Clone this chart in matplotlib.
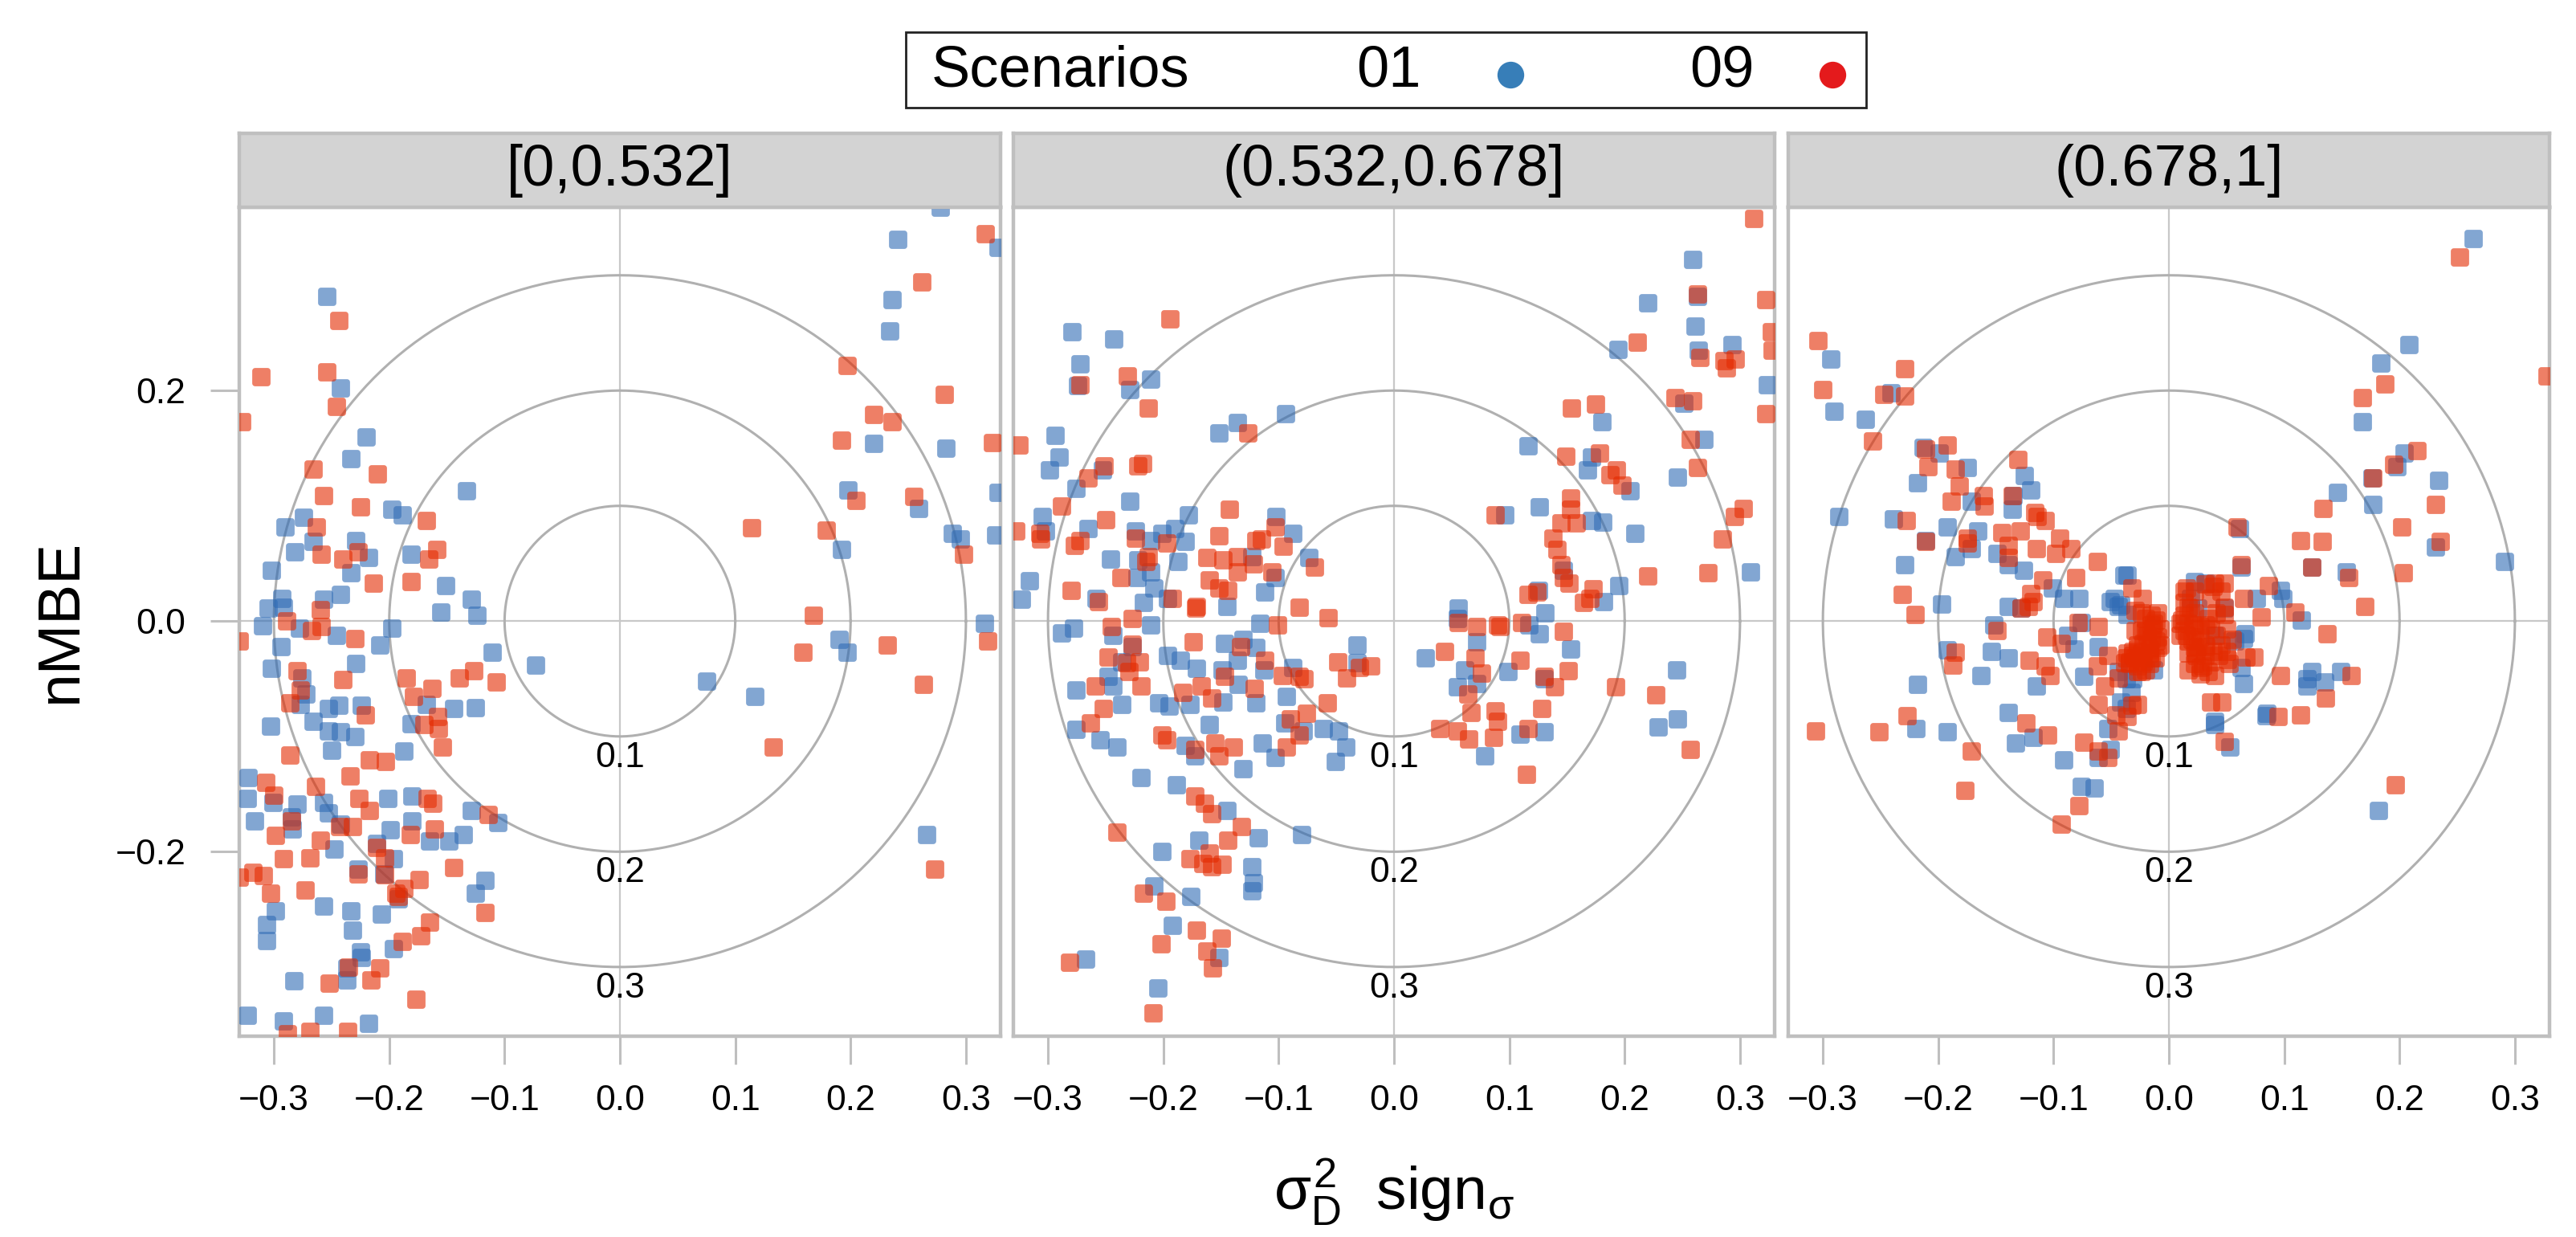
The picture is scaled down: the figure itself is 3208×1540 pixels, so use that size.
import numpy as np
import matplotlib
matplotlib.use("Agg")
import matplotlib.pyplot as plt
from matplotlib.path import Path
from matplotlib.patches import Rectangle
from matplotlib.lines import Line2D

plt.rcParams['font.family'] = ['Liberation Sans', 'DejaVu Sans']
plt.rcParams['mathtext.fontset'] = 'custom'
plt.rcParams['mathtext.rm'] = 'Liberation Sans'
plt.rcParams['mathtext.it'] = 'Liberation Sans'
plt.rcParams['mathtext.sf'] = 'Liberation Sans'

# ---- data: (sigma_D^2 * sign, nMBE) per panel and scenario ----
panel_labels = ['[0,0.532]', '(0.532,0.678]', '(0.678,1]']
scenario_labels = ['01', '09']

p1_s01 = [(-0.254,0.282),(-0.242,0.202),(-0.220,0.160),(-0.233,0.141),(-0.274,0.090),(-0.290,0.082),(-0.282,0.060),
          (-0.266,0.069),(-0.229,0.070),(-0.218,0.055),(-0.233,0.042),(-0.302,0.044),(-0.293,0.020),(-0.292,0.012),
          (-0.305,0.011),(-0.310,-0.004),(-0.278,-0.006),(-0.257,0.019),(-0.242,0.023),(-0.246,-0.012),(-0.294,-0.022),
          (-0.229,-0.037),(-0.208,-0.021),(-0.198,-0.006),(-0.198,0.097),(-0.189,0.092),(-0.181,0.058),(-0.151,0.031),
          (-0.155,0.008),(-0.129,0.019),(-0.124,0.005),(-0.133,0.113),(-0.111,-0.027),(-0.073,-0.038),(0.075,-0.052),
          (0.117,-0.065),(-0.302,-0.041),(-0.276,-0.049),(-0.272,-0.063),(-0.277,-0.072),(-0.253,-0.076),(-0.244,-0.073),
          (-0.224,-0.073),(-0.266,-0.087),(-0.253,-0.095),(-0.242,-0.096),(-0.230,-0.100),(-0.303,-0.091),(-0.250,-0.112),
          (-0.187,-0.113),(-0.168,-0.072),(-0.181,-0.089),(-0.144,-0.076),(-0.125,-0.075),(-0.322,-0.136),(-0.323,-0.154),
          (-0.301,-0.157),(-0.280,-0.159),(-0.285,-0.170),(-0.317,-0.173),(-0.284,-0.180),(-0.257,-0.157),(-0.253,-0.166),
          (-0.242,-0.176),(-0.201,-0.154),(-0.180,-0.152),(-0.199,-0.181),(-0.180,-0.173),(-0.165,-0.191),(-0.148,-0.191),
          (-0.136,-0.185),(-0.129,-0.164),(-0.106,-0.175),(-0.248,-0.198),(-0.211,-0.193),(-0.196,-0.206),(-0.227,-0.215),
          (-0.205,-0.219),(-0.125,-0.236),(-0.117,-0.225),(-0.192,-0.241),(-0.257,-0.247),(-0.233,-0.251),(-0.207,-0.254),
          (-0.299,-0.251),(-0.306,-0.263),(-0.232,-0.268),(-0.306,-0.277),(-0.225,-0.287),(-0.224,-0.292),(-0.237,-0.301),
          (-0.196,-0.284),(-0.283,-0.312),(-0.237,-0.311),(-0.323,-0.342),(-0.292,-0.347),(-0.257,-0.342),(-0.218,-0.349),
          (0.241,0.331),(0.278,0.359),(0.236,0.279),(0.234,0.252),(0.220,0.154),(0.283,0.150),(0.198,0.114),(0.259,0.098),
          (0.192,0.062),(0.288,0.076),(0.295,0.071),(0.326,0.075),(0.328,0.112),(0.328,0.324),(0.316,-0.002),(0.190,-0.016),
          (0.197,-0.027),(0.266,-0.185)]

p1_s09 = [(-0.244,0.261),(-0.311,0.212),(-0.254,0.216),(-0.246,0.186),(-0.328,0.173),(-0.210,0.128),(-0.266,0.132),
          (-0.257,0.109),(-0.225,0.099),(-0.263,0.082),(-0.259,0.058),(-0.240,0.054),(-0.227,0.060),(-0.214,0.033),
          (-0.168,0.087),(-0.166,0.054),(-0.159,0.062),(-0.181,0.034),(-0.260,0.010),(-0.289,0.000),(-0.267,-0.008),
          (-0.259,-0.005),(-0.230,-0.015),(-0.330,-0.017),(-0.280,-0.043),(-0.240,-0.051),(-0.277,-0.060),(-0.286,-0.071),
          (-0.221,-0.081),(-0.185,-0.049),(-0.179,-0.065),(-0.163,-0.058),(-0.139,-0.049),(-0.127,-0.043),(-0.107,-0.053),
          (-0.158,-0.083),(-0.157,-0.093),(-0.170,-0.090),(-0.154,-0.109),(-0.286,-0.116),(-0.307,-0.140),(-0.300,-0.151),
          (-0.285,-0.173),(-0.264,-0.143),(-0.226,-0.154),(-0.217,-0.164),(-0.234,-0.134),(-0.217,-0.120),(-0.203,-0.122),
          (-0.167,-0.154),(-0.162,-0.158),(-0.232,-0.178),(-0.243,-0.178),(-0.161,-0.180),(-0.182,-0.185),(-0.299,-0.186),
          (-0.260,-0.190),(-0.292,-0.206),(-0.269,-0.205),(-0.211,-0.196),(-0.204,-0.205),(-0.144,-0.214),(-0.114,-0.168),
          (-0.318,-0.218),(-0.309,-0.221),(-0.330,-0.222),(-0.227,-0.219),(-0.303,-0.236),(-0.273,-0.233),(-0.204,-0.220),
          (-0.174,-0.224),(-0.194,-0.236),(-0.187,-0.232),(-0.192,-0.239),(-0.117,-0.253),(-0.165,-0.261),(-0.173,-0.273),
          (-0.189,-0.278),(-0.208,-0.301),(-0.216,-0.311),(-0.252,-0.314),(-0.235,-0.300),(-0.177,-0.328),(-0.288,-0.358),
          (-0.269,-0.356),(-0.236,-0.356),
          (0.317,0.336),(0.262,0.294),(0.197,0.222),(0.281,0.197),(0.220,0.179),(0.236,0.173),(0.192,0.157),(0.323,0.155),
          (0.205,0.105),(0.255,0.108),(0.179,0.079),(0.114,0.081),(0.298,0.058),(0.168,0.005),(0.232,-0.021),(0.319,-0.017),
          (0.159,-0.027),(0.263,-0.055),(0.133,-0.109),(0.273,-0.215)]

p2_s01 = [(-0.279,0.251),(-0.243,0.245),(-0.272,0.223),(-0.274,0.204),(-0.229,0.201),(-0.211,0.210),(-0.294,0.161),
          (-0.290,0.142),(-0.299,0.131),(-0.253,0.131),(-0.276,0.115),(-0.229,0.104),(-0.305,0.091),(-0.265,0.080),
          (-0.302,0.078),(-0.316,0.035),(-0.323,0.019),(-0.246,0.054),(-0.224,0.078),(-0.211,0.070),(-0.201,0.076),
          (-0.190,0.080),(-0.178,0.092),(-0.181,0.069),(-0.222,0.053),(-0.211,0.043),(-0.208,0.029),(-0.223,0.038),
          (-0.187,0.052),(-0.217,0.016),(-0.196,0.020),(-0.211,-0.003),(-0.258,0.020),(-0.145,0.013),(-0.112,0.025),
          (-0.103,0.038),(-0.123,0.056),(-0.102,0.091),(-0.088,0.076),(-0.074,0.055),(-0.152,0.163),(-0.136,0.172),
          (-0.094,0.180),(-0.288,-0.010),(-0.278,-0.006),(-0.244,-0.012),(-0.227,-0.022),(-0.236,-0.035),(-0.248,-0.048),
          (-0.244,-0.056),(-0.276,-0.060),(-0.236,-0.072),(-0.276,-0.094),(-0.255,-0.103),(-0.240,-0.109),(-0.196,-0.030),
          (-0.185,-0.034),(-0.171,-0.041),(-0.204,-0.071),(-0.195,-0.074),(-0.177,-0.072),(-0.147,-0.019),(-0.131,-0.016),
          (-0.120,-0.023),(-0.136,-0.034),(-0.149,-0.042),(-0.135,-0.055),(-0.113,-0.042),(-0.116,-0.002),(-0.120,-0.071),
          (-0.148,-0.070),(-0.160,-0.090),(-0.181,-0.108),(-0.173,-0.117),(-0.131,-0.128),(-0.114,-0.106),(-0.103,-0.118),
          (-0.093,-0.065),(-0.088,-0.040),(-0.095,-0.088),(-0.079,-0.095),(-0.061,-0.093),(-0.048,-0.095),(-0.042,-0.109),
          (-0.051,-0.122),(-0.032,-0.021),(-0.032,-0.036),(-0.219,-0.136),(-0.189,-0.142),(-0.145,-0.164),(-0.118,-0.188),
          (-0.169,-0.190),(-0.080,-0.185),(-0.201,-0.200),(-0.123,-0.213),(-0.122,-0.227),(-0.123,-0.234),(-0.208,-0.230),
          (-0.176,-0.239),(-0.192,-0.264),(-0.152,-0.292),(-0.267,-0.293),(-0.205,-0.318),
          (0.027,-0.032),(0.056,0.011),(0.055,0.002),(0.072,-0.018),(0.055,-0.057),(0.072,-0.054),(0.061,-0.042),
          (0.079,-0.117),(0.099,-0.044),(0.130,-0.096),(0.109,-0.098),(0.130,-0.050),(0.153,-0.024),(0.126,-0.011),
          (0.131,0.007),(0.125,0.027),(0.117,-0.003),(0.096,0.092),(0.126,0.099),(0.171,0.087),(0.181,0.086),(0.209,0.076),
          (0.195,0.031),(0.182,0.017),(0.171,0.142),(0.168,0.131),(0.180,0.173),(0.116,0.152),(0.205,0.113),(0.194,0.236),
          (0.220,0.276),(0.259,0.314),(0.263,0.282),(0.261,0.256),(0.264,0.235),(0.293,0.240),(0.324,0.205),(0.251,0.189),
          (0.269,0.158),(0.246,0.125),(0.309,0.043),(0.245,-0.042),(0.246,-0.085),(0.229,-0.092),(0.147,0.044)]

p2_s09 = [(-0.194,0.262),(-0.325,0.153),(-0.272,0.205),(-0.231,0.213),(-0.213,0.185),(-0.127,0.163),(-0.251,0.135),
          (-0.265,0.124),(-0.222,0.135),(-0.218,0.137),(-0.288,0.100),(-0.250,0.088),(-0.277,0.066),(-0.272,0.070),
          (-0.306,0.071),(-0.328,0.078),(-0.307,0.076),(-0.224,0.072),(-0.213,0.056),(-0.215,0.052),(-0.197,0.068),
          (-0.143,0.097),(-0.152,0.074),(-0.162,0.055),(-0.148,0.053),(-0.136,0.056),(-0.136,0.043),(-0.120,0.070),
          (-0.115,0.071),(-0.103,0.082),(-0.096,0.065),(-0.122,0.050),(-0.106,0.043),(-0.160,0.036),(-0.152,0.029),
          (-0.144,0.027),(-0.171,0.013),(-0.172,0.011),(-0.237,0.038),(-0.280,0.027),(-0.256,0.017),(-0.227,0.002),
          (-0.192,0.020),(-0.245,-0.005),(-0.227,-0.020),(-0.248,-0.031),(-0.230,-0.044),(-0.232,-0.036),(-0.221,-0.035),
          (-0.219,-0.056),(-0.259,-0.056),(-0.252,-0.076),(-0.263,-0.088),(-0.174,-0.018),(-0.183,-0.062),(-0.167,-0.056),
          (-0.158,-0.067),(-0.147,-0.048),(-0.133,-0.022),(-0.112,-0.034),(-0.121,-0.058),(-0.097,-0.047),(-0.082,-0.048),
          (-0.078,-0.050),(-0.076,-0.080),(-0.090,-0.085),(-0.058,-0.071),(-0.049,-0.035),(-0.041,-0.049),(-0.030,-0.040),
          (-0.020,-0.039),(-0.082,0.012),(-0.057,0.003),(-0.101,-0.003),(-0.069,0.047),(-0.201,-0.099),(-0.197,-0.103),
          (-0.173,-0.111),(-0.155,-0.106),(-0.152,-0.117),(-0.139,-0.109),(-0.093,-0.109),(-0.082,-0.099),(-0.173,-0.152),
          (-0.164,-0.158),(-0.158,-0.167),(-0.144,-0.190),(-0.132,-0.178),(-0.177,-0.206),(-0.166,-0.210),(-0.160,-0.201),
          (-0.158,-0.213),(-0.149,-0.211),(-0.240,-0.183),(-0.217,-0.236),(-0.198,-0.243),(-0.202,-0.280),(-0.171,-0.268),
          (-0.150,-0.275),(-0.162,-0.286),(-0.157,-0.301),(-0.281,-0.296),(-0.209,-0.340),
          (0.044,-0.026),(0.040,-0.093),(0.055,-0.095),(0.065,-0.102),(0.064,-0.063),(0.067,-0.079),(0.070,-0.032),
          (0.076,-0.045),(0.088,-0.078),(0.090,-0.087),(0.086,-0.101),(0.056,-0.001),(0.072,-0.005),(0.090,-0.003),
          (0.092,-0.005),(0.111,-0.001),(0.109,-0.034),(0.115,-0.133),(0.116,-0.093),(0.130,-0.048),(0.139,-0.057),
          (0.128,-0.076),(0.147,-0.009),(0.151,-0.043),(0.116,0.023),(0.124,0.025),(0.164,0.016),(0.170,0.020),
          (0.173,0.028),(0.138,0.072),(0.141,0.062),(0.147,0.038),(0.152,0.033),(0.145,0.049),(0.145,0.085),(0.153,0.107),
          (0.153,0.097),(0.158,0.085),(0.149,0.143),(0.154,0.185),(0.175,0.188),(0.178,0.146),(0.187,0.127),(0.193,0.131),
          (0.198,0.118),(0.088,0.092),(0.192,-0.057),(0.227,-0.064),(0.257,-0.111),(0.220,0.039),(0.272,0.042),
          (0.285,0.071),(0.295,0.091),(0.303,0.098),(0.263,0.133),(0.257,0.158),(0.244,0.194),(0.259,0.191),(0.211,0.242),
          (0.263,0.284),(0.265,0.229),(0.286,0.226),(0.296,0.227),(0.288,0.220),(0.322,0.180),(0.322,0.279),(0.328,0.235),
          (0.327,0.251),(0.312,0.349)]

p3_s01 = [(-0.293,0.227),(-0.290,0.182),(-0.263,0.175),(-0.241,0.198),(-0.286,0.091),(-0.239,0.089),(-0.218,0.120),
          (-0.213,0.151),(-0.199,0.146),(-0.175,0.133),(-0.229,0.049),(-0.211,0.070),(-0.192,0.082),(-0.185,0.056),
          (-0.171,0.063),(-0.171,0.104),(-0.166,0.078),(-0.197,0.015),(-0.136,0.097),(-0.125,0.126),(-0.120,0.114),
          (-0.135,0.109),(-0.149,0.059),(-0.139,0.049),(-0.126,0.044),(-0.128,0.011),(-0.139,0.013),(-0.152,-0.003),
          (-0.154,-0.026),(-0.139,-0.032),(-0.192,-0.025),(-0.163,-0.047),(-0.218,-0.055),(-0.115,-0.056),(-0.101,0.029),
          (-0.091,0.020),(-0.078,0.020),(-0.076,-0.001),(-0.088,-0.012),(-0.082,-0.024),(-0.074,-0.048),(-0.061,-0.022),
          (-0.051,0.017),(-0.044,0.013),(-0.039,0.040),(-0.139,-0.079),(-0.118,-0.101),(-0.133,-0.106),(-0.219,-0.093),
          (-0.192,-0.096),(-0.091,-0.120),(-0.076,-0.143),(-0.065,-0.145),(-0.061,-0.118),(-0.051,-0.111),(-0.053,-0.093),
          (-0.042,-0.070),(-0.031,-0.050),(-0.037,-0.076),(0.040,-0.090),(0.053,-0.109),(0.061,0.080),(0.063,0.047),
          (0.063,-0.040),(0.065,-0.054),(0.076,0.020),(0.084,-0.082),(0.099,0.020),(0.115,0.001),(0.120,-0.056),
          (0.124,-0.044),(0.135,-0.053),(0.149,-0.044),(0.146,0.112),(0.154,0.043),(0.124,0.047),(0.177,0.101),
          (0.176,0.124),(0.198,0.134),(0.204,0.146),(0.234,0.122),(0.231,0.064),(0.168,0.173),(0.184,0.224),(0.208,0.240),
          (0.264,0.332),(0.291,0.052),(0.182,-0.164),(0.032,0.033),(0.019,0.020),(0.025,0.011),(0.048,0.011),
          (0.057,-0.017),(0.065,-0.015),(0.040,-0.012),(-0.036,0.006),(-0.044,-0.044),(-0.013,-0.042),
          (-0.036,0.040),(-0.047,0.020),(-0.042,0.014),(-0.037,-0.050),(-0.033,-0.062),(0.040,-0.087),(0.120,-0.050),
          (0.085,-0.080),(0.097,0.027),(0.022,0.034),(0.066,-0.011)]

p3_s09 = [(-0.304,0.243),(-0.300,0.201),(-0.247,0.197),(-0.229,0.219),(-0.229,0.195),(-0.257,0.156),(-0.211,0.149),
          (-0.209,0.134),(-0.192,0.153),(-0.185,0.132),(-0.182,0.117),(-0.189,0.104),(-0.161,0.109),(-0.160,0.100),
          (-0.131,0.140),(-0.136,0.109),(-0.228,0.087),(-0.211,0.069),(-0.175,0.072),(-0.175,0.068),(-0.145,0.077),
          (-0.129,0.078),(-0.139,0.066),(-0.139,0.055),(-0.116,0.094),(-0.114,0.091),(-0.107,0.087),(-0.115,0.063),
          (-0.095,0.072),(-0.098,0.059),(-0.085,0.063),(-0.081,0.038),(-0.109,0.036),(-0.120,0.024),(-0.122,0.013),
          (-0.118,0.017),(-0.128,0.011),(-0.231,0.023),(-0.220,0.006),(-0.149,-0.008),(-0.106,-0.014),(-0.093,-0.019),
          (-0.079,-0.001),(-0.061,-0.005),(-0.053,-0.030),(-0.062,-0.039),(-0.056,-0.056),(-0.044,-0.049),(-0.038,-0.036),
          (-0.032,0.029),(-0.023,0.020),(-0.019,-0.012),(-0.027,-0.024),(-0.015,-0.003),(-0.011,0.001),(-0.023,-0.031),
          (-0.027,-0.044),(-0.034,-0.035),(-0.185,-0.027),(-0.187,-0.038),(-0.121,-0.034),(-0.107,-0.039),(-0.103,-0.047),
          (-0.062,0.052),(-0.032,-0.073),(-0.027,-0.072),(-0.036,-0.083),(-0.046,-0.081),(-0.061,-0.072),(-0.044,-0.095),
          (-0.074,-0.105),(-0.061,-0.113),(-0.053,-0.118),(-0.105,-0.099),(-0.124,-0.088),(-0.171,-0.113),(-0.177,-0.147),
          (-0.078,-0.160),(-0.093,-0.176),(-0.306,-0.095),(-0.251,-0.096),(-0.227,-0.082),
          (0.015,0.029),(0.019,0.011),(0.013,-0.008),(0.017,-0.017),(0.023,-0.028),(0.027,-0.040),(0.032,-0.003),
          (0.040,0.033),(0.048,0.033),(0.036,0.020),(0.048,0.006),(0.051,-0.033),(0.040,-0.047),(0.036,-0.070),
          (0.046,-0.070),(0.048,-0.104),(0.059,0.082),(0.063,0.049),(0.065,0.020),(0.067,-0.031),(0.074,-0.031),
          (0.080,0.004),(0.086,0.031),(0.097,-0.047),(0.095,-0.083),(0.109,0.008),(0.114,0.070),(0.124,0.047),
          (0.133,0.069),(0.134,0.098),(0.137,-0.011),(0.136,-0.067),(0.114,-0.081),(0.158,-0.047),(0.156,0.038),
          (0.170,0.013),(0.168,0.194),(0.187,0.206),(0.177,0.124),(0.195,0.136),(0.215,0.148),(0.202,0.082),(0.203,0.042),
          (0.231,0.101),(0.235,0.069),(0.196,-0.142),(0.252,0.316),(0.328,0.213),(0.011,0.001),(0.021,-0.003),
          (0.025,-0.022),(0.032,-0.022),(-0.011,-0.017),(-0.017,-0.024),(-0.024,-0.008),(-0.029,-0.008),
          # dense core, left
          (-0.010,0.007),(-0.015,0.005),(-0.020,0.002),(-0.013,-0.002),(-0.008,-0.007),(-0.014,-0.007),(-0.020,-0.009),
          (-0.010,-0.014),(-0.015,-0.016),(-0.022,-0.019),(-0.027,-0.021),(-0.031,-0.026),(-0.024,-0.028),(-0.017,-0.028),
          (-0.010,-0.023),(-0.029,-0.032),(-0.022,-0.035),(-0.015,-0.032),(-0.034,-0.037),(-0.027,-0.039),(-0.020,-0.042),
          (-0.031,-0.030),(-0.036,-0.028),(-0.024,-0.044),(-0.029,0.009),(-0.024,0.007),(-0.008,-0.021),(-0.012,-0.032),
          (-0.017,-0.037),(-0.037,-0.032),
          # dense core, right
          (0.013,0.016),(0.017,0.012),(0.022,0.007),(0.013,0.005),(0.010,-0.002),(0.017,-0.002),(0.022,-0.007),
          (0.027,-0.005),(0.015,-0.012),(0.020,-0.016),(0.027,-0.014),(0.031,-0.021),(0.022,-0.023),(0.017,-0.028),
          (0.024,-0.030),(0.031,-0.030),(0.036,-0.035),(0.022,-0.037),(0.029,-0.039),(0.034,-0.044),(0.027,-0.046),
          (0.017,-0.042),(0.038,-0.026),(0.043,-0.030),(0.045,-0.021),(0.041,-0.012),(0.036,-0.007),(0.034,0.002),
          (0.041,0.007),(0.048,0.012),(0.045,0.026),(0.038,0.030),(0.031,0.032),(0.050,-0.007),(0.055,-0.016),
          (0.050,-0.026),(0.052,-0.037),(0.022,0.026),(0.013,0.026),(0.010,-0.012)]

panels = [(p1_s01, p1_s09), (p2_s01, p2_s09), (p3_s01, p3_s09)]
rings = [0.1, 0.2, 0.3]
x_ticks = [-0.3, -0.2, -0.1, 0.0, 0.1, 0.2, 0.3]
y_ticks = [-0.2, 0.0, 0.2]

col_01 = '#2F6BB5'
col_09 = '#E42A00'
frame_col = '#BFBFBF'

# rounded square marker
def rounded_square(r=0.32, n=8):
    c = 1 - r
    pts = []
    for (cx, cy), a0 in zip([(c, c), (-c, c), (-c, -c), (c, -c)], [0, 90, 180, 270]):
        t = np.radians(np.linspace(a0, a0 + 90, n))
        pts += list(zip(cx + r * np.cos(t), cy + r * np.sin(t)))
    pts.append(pts[0])
    return Path(pts, closed=True)

marker = rounded_square()

fig = plt.figure(figsize=(16.04, 7.7), dpi=200)

lefts = [298 / 3208, 1262 / 3208, 2227 / 3208]
w = 948 / 3208
bottom = 250 / 1540
h = 1032 / 1540
strip_h = 92 / 1540

for i, (left, (s01, s09)) in enumerate(zip(lefts, panels)):
    ax = fig.add_axes([left, bottom, w, h])
    ax.set_xlim(-0.33, 0.33)
    ax.set_ylim(-0.36, 0.359)

    ax.axhline(0, color='#C8C8C8', lw=0.8, zorder=1)
    ax.axvline(0, color='#C8C8C8', lw=0.8, zorder=1)
    th = np.linspace(0, 2 * np.pi, 400)
    for r in rings:
        ax.plot(r * np.cos(th), r * np.sin(th), color='#B0B0B0', lw=1.1, zorder=1)
        ax.text(0, -r - 0.004, f'{r:.1f}', ha='center', va='top', fontsize=16, zorder=2)

    a = np.array(s01)
    b = np.array(s09)
    ax.scatter(a[:, 0], a[:, 1], s=8.2 ** 2, marker=marker, color=col_01, alpha=0.6, linewidths=0, zorder=3)
    ax.scatter(b[:, 0], b[:, 1], s=8.2 ** 2, marker=marker, color=col_09, alpha=0.6, linewidths=0, zorder=4)

    for sp in ax.spines.values():
        sp.set_color(frame_col)
        sp.set_linewidth(1.6)

    ax.set_xticks(x_ticks)
    ax.tick_params(axis='x', direction='out', length=12.5, width=1.1, color=frame_col,
                   labelsize=16, pad=9, top=False)
    if i == 0:
        ax.set_yticks(y_ticks)
        ax.tick_params(axis='y', direction='out', length=13, width=1.1, color=frame_col,
                       labelsize=16, pad=11, right=False)
    else:
        ax.set_yticks([])

    sax = fig.add_axes([left, bottom + h, w, strip_h])
    sax.set_facecolor('#D3D3D3')
    sax.set_xticks([])
    sax.set_yticks([])
    for sp in sax.spines.values():
        sp.set_color(frame_col)
        sp.set_linewidth(1.6)
    sax.text(0.5, 0.5, panel_labels[i], transform=sax.transAxes, ha='center', va='center', fontsize=26)

# axis titles
fig.text(0.0234, 0.498, 'nMBE', rotation=90, ha='center', va='center', fontsize=27)
fig.text(0.541, 0.022, r'$\sigma_{D}^{2}\ \ \mathrm{sign}_{\sigma}$', ha='center', va='baseline', fontsize=27)

# legend on top
fig.add_artist(Rectangle((0.3516, 0.913), 0.7245 - 0.3516, 0.061, transform=fig.transFigure,
                         facecolor='white', edgecolor='#222222', lw=1.0))
fig.text(0.3616, 0.9422, 'Scenarios', ha='left', va='center', fontsize=26)
fig.text(0.5517, 0.9422, scenario_labels[0], ha='right', va='center', fontsize=26)
fig.text(0.6810, 0.9422, scenario_labels[1], ha='right', va='center', fontsize=26)
fig.add_artist(Line2D([0.5864], [0.9397], transform=fig.transFigure, marker='o', ms=12,
                      color='#377EB8', markeredgewidth=0))
fig.add_artist(Line2D([0.7114], [0.9397], transform=fig.transFigure, marker='o', ms=12,
                      color='#E41A1C', markeredgewidth=0))

fig.savefig('out.png', dpi=200)
